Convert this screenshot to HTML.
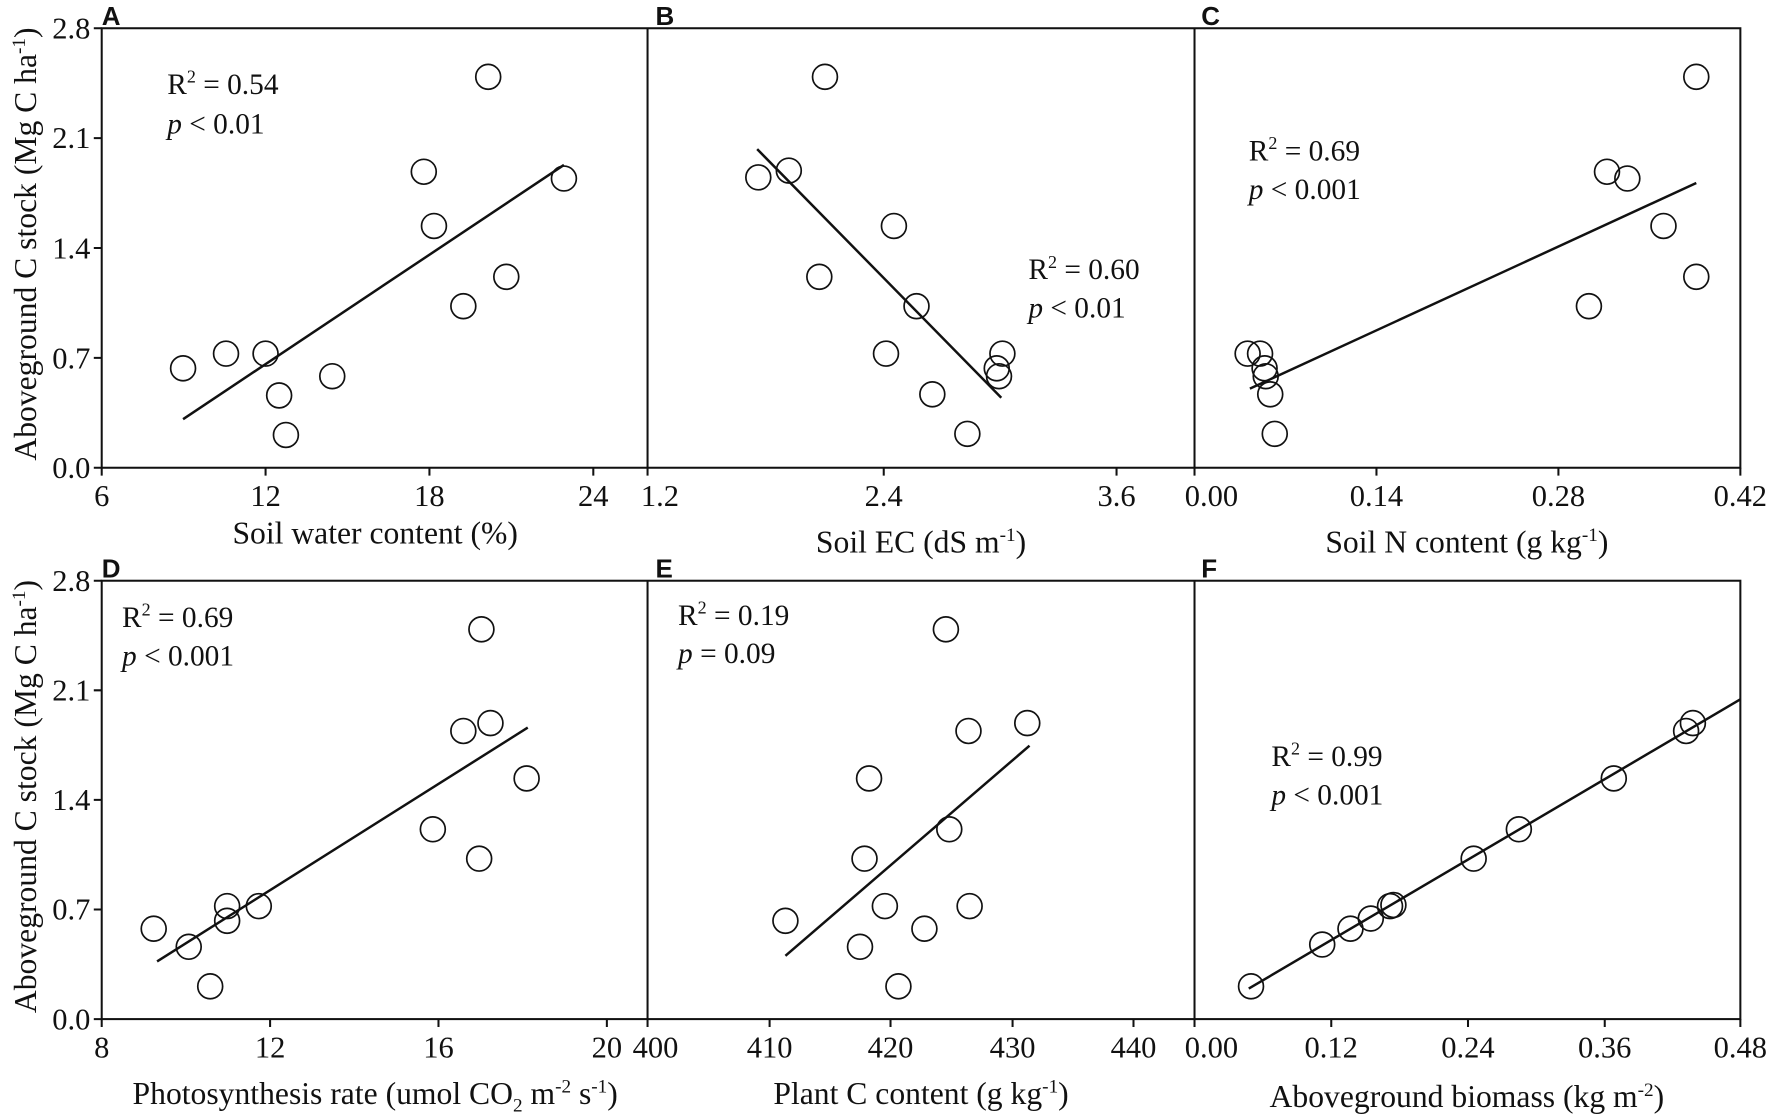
<!DOCTYPE html>
<html><head><meta charset="utf-8"><style>
html,body{margin:0;padding:0;background:#fff;}
svg{display:block;}
text{font-family:"Liberation Serif",serif;fill:#111;}
.t{font-size:27px;}
.ti{font-size:28px;}
.an{font-size:26px;}
.lt text{font-family:"Liberation Sans",sans-serif;font-weight:bold;font-size:23px;}
circle{fill:none;stroke:#111;stroke-width:1.5;}
.ln{stroke:#111;stroke-width:2.2;fill:none;}
.ax{stroke:#111;stroke-width:1.8;fill:none;}
</style></head><body>
<svg width="1772" height="1114" viewBox="0 0 1568 986" preserveAspectRatio="none" xmlns="http://www.w3.org/2000/svg">
<rect width="1568" height="986" fill="#fff"/>
<g class="ax">
<rect x="90" y="25" width="1450" height="389"/>
<line x1="573" y1="25" x2="573" y2="414"/><line x1="1057" y1="25" x2="1057" y2="414"/>
<rect x="90" y="514" width="1450" height="388"/>
<line x1="573" y1="514" x2="573" y2="902"/><line x1="1057" y1="514" x2="1057" y2="902"/>
<path d="M83 414H90M83 316.75H90M83 219.5H90M83 122.25H90M83 25H90"/>
<path d="M83 902H90M83 805H90M83 708H90M83 611H90M83 514H90"/>
<path d="M90 414V421M235 414V421M380 414V421M525 414V421M573 414V421M782 414V421M988 414V421M1057 414V421M1218 414V421M1379 414V421M1540 414V421"/>
<path d="M90 902V909M239 902V909M388 902V909M537 902V909M573 902V909M681 902V909M788 902V909M896 902V909M1003 902V909M1057 902V909M1178 902V909M1299 902V909M1420 902V909M1540 902V909"/>
</g>
<g class="t" text-anchor="end">
<text x="80" y="423">0.0</text><text x="80" y="326">0.7</text><text x="80" y="229">1.4</text><text x="80" y="131">2.1</text><text x="80" y="34">2.8</text>
<text x="80" y="911">0.0</text><text x="80" y="814">0.7</text><text x="80" y="717">1.4</text><text x="80" y="620">2.1</text><text x="80" y="523">2.8</text>
</g>
<g class="t" text-anchor="middle">
<text x="90" y="448">6</text><text x="235" y="448">12</text><text x="380" y="448">18</text><text x="525" y="448">24</text>
<text x="584" y="448">1.2</text><text x="782" y="448">2.4</text><text x="988" y="448">3.6</text>
<text x="1072" y="448">0.00</text><text x="1218" y="448">0.14</text><text x="1379" y="448">0.28</text><text x="1540" y="448">0.42</text>
<text x="90" y="936">8</text><text x="239" y="936">12</text><text x="388" y="936">16</text><text x="537" y="936">20</text>
<text x="580" y="936">400</text><text x="681" y="936">410</text><text x="788" y="936">420</text><text x="896" y="936">430</text><text x="1003" y="936">440</text>
<text x="1072" y="936">0.00</text><text x="1178" y="936">0.12</text><text x="1299" y="936">0.24</text><text x="1420" y="936">0.36</text><text x="1540" y="936">0.48</text>
</g>
<g class="ti" text-anchor="middle">
<text x="332" y="481">Soil water content (%)</text>
<text x="815" y="489">Soil EC (dS m<tspan dy="-10" font-size="17">-1</tspan><tspan dy="10">)</tspan></text>
<text x="1298" y="489">Soil N content (g kg<tspan dy="-10" font-size="17">-1</tspan><tspan dy="10">)</tspan></text>
<text x="332" y="977">Photosynthesis rate (umol CO<tspan dy="7" font-size="17">2</tspan><tspan dy="-7"> m</tspan><tspan dy="-10" font-size="17">-2</tspan><tspan dy="10"> s</tspan><tspan dy="-10" font-size="17">-1</tspan><tspan dy="10">)</tspan></text>
<text x="815" y="977">Plant C content (g kg<tspan dy="-10" font-size="17">-1</tspan><tspan dy="10">)</tspan></text>
<text x="1298" y="980">Aboveground biomass (kg m<tspan dy="-10" font-size="17">-2</tspan><tspan dy="10">)</tspan></text>
<text transform="translate(32,216) rotate(-90)">Aboveground C stock (Mg C ha<tspan dy="-10" font-size="17">-1</tspan><tspan dy="10">)</tspan></text>
<text transform="translate(32,705) rotate(-90)">Aboveground C stock (Mg C ha<tspan dy="-10" font-size="17">-1</tspan><tspan dy="10">)</tspan></text>
</g>
<g class="lt">
<text x="90" y="22">A</text><text x="580" y="22">B</text><text x="1063" y="22">C</text>
<text x="90" y="511">D</text><text x="580" y="511">E</text><text x="1063" y="511">F</text>
</g>
<g class="an">
<text x="148" y="83">R<tspan dy="-10" font-size="16">2</tspan><tspan dy="10"> = 0.54</tspan></text><text x="148" y="118"><tspan font-style="italic">p</tspan> &lt; 0.01</text>
<text x="910" y="247">R<tspan dy="-10" font-size="16">2</tspan><tspan dy="10"> = 0.60</tspan></text><text x="910" y="281"><tspan font-style="italic">p</tspan> &lt; 0.01</text>
<text x="1105" y="142">R<tspan dy="-10" font-size="16">2</tspan><tspan dy="10"> = 0.69</tspan></text><text x="1105" y="176"><tspan font-style="italic">p</tspan> &lt; 0.001</text>
<text x="108" y="555">R<tspan dy="-10" font-size="16">2</tspan><tspan dy="10"> = 0.69</tspan></text><text x="108" y="589"><tspan font-style="italic">p</tspan> &lt; 0.001</text>
<text x="600" y="553">R<tspan dy="-10" font-size="16">2</tspan><tspan dy="10"> = 0.19</tspan></text><text x="600" y="587"><tspan font-style="italic">p</tspan> = 0.09</text>
<text x="1125" y="678">R<tspan dy="-10" font-size="16">2</tspan><tspan dy="10"> = 0.99</tspan></text><text x="1125" y="712"><tspan font-style="italic">p</tspan> &lt; 0.001</text>
</g>
<g class="ln">
<line x1="162" y1="371" x2="499" y2="146"/>
<line x1="670" y1="132" x2="886" y2="352"/>
<line x1="1106" y1="344" x2="1501" y2="162"/>
<line x1="139" y1="851" x2="467" y2="644"/>
<line x1="695" y1="846" x2="911" y2="660"/>
<line x1="1105" y1="875" x2="1540" y2="619"/>
</g>
<g>
<circle cx="162" cy="326" r="11"/><circle cx="200" cy="313" r="11"/><circle cx="235" cy="313" r="11"/><circle cx="247" cy="350" r="11"/><circle cx="294" cy="333" r="11"/><circle cx="253" cy="385" r="11"/><circle cx="375" cy="152" r="11"/><circle cx="384" cy="200" r="11"/><circle cx="410" cy="271" r="11"/><circle cx="448" cy="245" r="11"/><circle cx="432" cy="68" r="11"/><circle cx="499" cy="158" r="11"/>
<circle cx="671" cy="157" r="11"/><circle cx="698" cy="151" r="11"/><circle cx="730" cy="68" r="11"/><circle cx="725" cy="245" r="11"/><circle cx="791" cy="200" r="11"/><circle cx="811" cy="271" r="11"/><circle cx="784" cy="313" r="11"/><circle cx="825" cy="349" r="11"/><circle cx="856" cy="384" r="11"/><circle cx="887" cy="313" r="11"/><circle cx="884" cy="333" r="11"/><circle cx="882" cy="326" r="11"/>
<circle cx="1104" cy="313" r="11"/><circle cx="1115" cy="313" r="11"/><circle cx="1119" cy="326" r="11"/><circle cx="1120" cy="333" r="11"/><circle cx="1124" cy="349" r="11"/><circle cx="1128" cy="384" r="11"/><circle cx="1406" cy="271" r="11"/><circle cx="1422" cy="152" r="11"/><circle cx="1440" cy="158" r="11"/><circle cx="1472" cy="200" r="11"/><circle cx="1501" cy="68" r="11"/><circle cx="1501" cy="245" r="11"/>
<circle cx="136" cy="822" r="11"/><circle cx="167" cy="838" r="11"/><circle cx="186" cy="873" r="11"/><circle cx="201" cy="802" r="11"/><circle cx="201" cy="815" r="11"/><circle cx="229" cy="802" r="11"/><circle cx="383" cy="734" r="11"/><circle cx="410" cy="647" r="11"/><circle cx="434" cy="640" r="11"/><circle cx="466" cy="689" r="11"/><circle cx="426" cy="557" r="11"/><circle cx="424" cy="760" r="11"/>
<circle cx="695" cy="815" r="11"/><circle cx="761" cy="838" r="11"/><circle cx="765" cy="760" r="11"/><circle cx="769" cy="689" r="11"/><circle cx="783" cy="802" r="11"/><circle cx="795" cy="873" r="11"/><circle cx="818" cy="822" r="11"/><circle cx="837" cy="557" r="11"/><circle cx="840" cy="734" r="11"/><circle cx="857" cy="647" r="11"/><circle cx="858" cy="802" r="11"/><circle cx="909" cy="640" r="11"/>
<circle cx="1107" cy="873" r="11"/><circle cx="1170" cy="836" r="11"/><circle cx="1195" cy="822" r="11"/><circle cx="1213" cy="813" r="11"/><circle cx="1230" cy="802" r="11"/><circle cx="1233" cy="801" r="11"/><circle cx="1304" cy="760" r="11"/><circle cx="1344" cy="734" r="11"/><circle cx="1428" cy="689" r="11"/><circle cx="1492" cy="647" r="11"/><circle cx="1498" cy="640" r="11"/>
</g>
</svg>
</body></html>
